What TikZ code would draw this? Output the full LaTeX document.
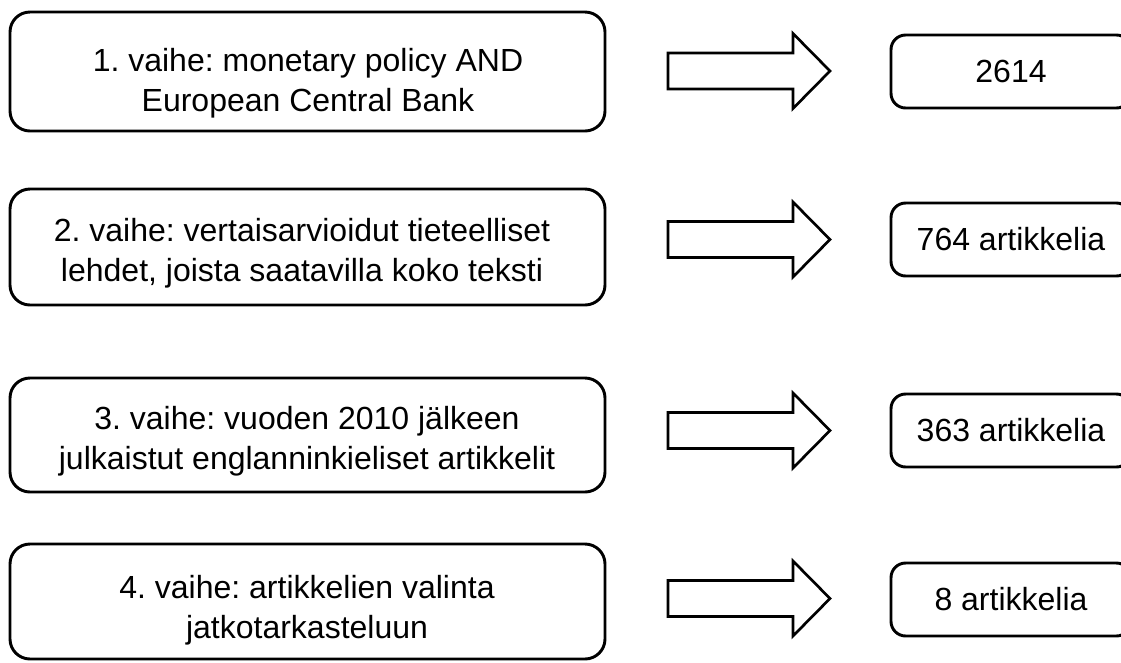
\documentclass[tikz,border=0pt]{standalone}
\usepackage{fontspec}
\setmainfont{Liberation Sans}
\frenchspacing
\begin{document}
\begin{tikzpicture}[x=0.75pt,y=-0.75pt,
  stagebox/.style={draw=black, line width=2.2pt, rounded corners=15pt,
    minimum width=446.25pt, inner sep=0pt},
  stagetext/.style={align=center, font=\fontsize{24}{30}\selectfont, inner sep=0pt},
  countbox/.style={draw=black, line width=2.2pt, rounded corners=11pt,
    minimum width=180pt, minimum height=54.75pt,
    font=\fontsize{24}{30}\selectfont, inner sep=0pt},
  blockarrow/.style={draw=black, line width=2pt, fill=white, line join=miter}]
\useasboundingbox (0,0) rectangle (1121,662);
\clip (0,0) rectangle (1121,662);
\fill[white] (0,0) rectangle (1121,662);

% search stages
\node[stagebox, minimum height=89.25pt] (s1) at (307.5,71.5) {};
\node[stagebox, minimum height=87pt] (s2) at (307.5,247) {};
\node[stagebox, minimum height=85.5pt] (s3) at (307.5,435) {};
\node[stagebox, minimum height=86.25pt] (s4) at (307.5,601.5) {};

\node[stagetext] (t1) at (308,83)
  {1. vaihe: monetary policy AND\\European Central Bank};
\node[stagetext] (t2) at (302,253)
  {2. vaihe: vertaisarvioidut tieteelliset\\lehdet, joista saatavilla koko teksti};
\node[stagetext] (t3) at (307,441)
  {3. vaihe: vuoden 2010 jälkeen\\julkaistut englanninkieliset artikkelit};
\node[stagetext] (t4) at (307,610)
  {4. vaihe: artikkelien valinta\\jatkotarkasteluun};

% resulting counts
\node[countbox] (c1) at (1011,71.5) {2614};
\node[countbox] (c2) at (1011,239.5) {764 artikkelia};
\node[countbox] (c3) at (1011,430.5) {363 artikkelia};
\node[countbox] (c4) at (1011,599.5) {8 artikkelia};

% block arrows between stages and counts
\foreach \yc in {71, 239.5, 430.5, 598.5} {
  \draw[blockarrow] (668,\yc-18) -- (793,\yc-18) -- (793,\yc-37.5)
    -- (830,\yc) -- (793,\yc+37.5) -- (793,\yc+18) -- (668,\yc+18) -- cycle;
}
\end{tikzpicture}
\end{document}
